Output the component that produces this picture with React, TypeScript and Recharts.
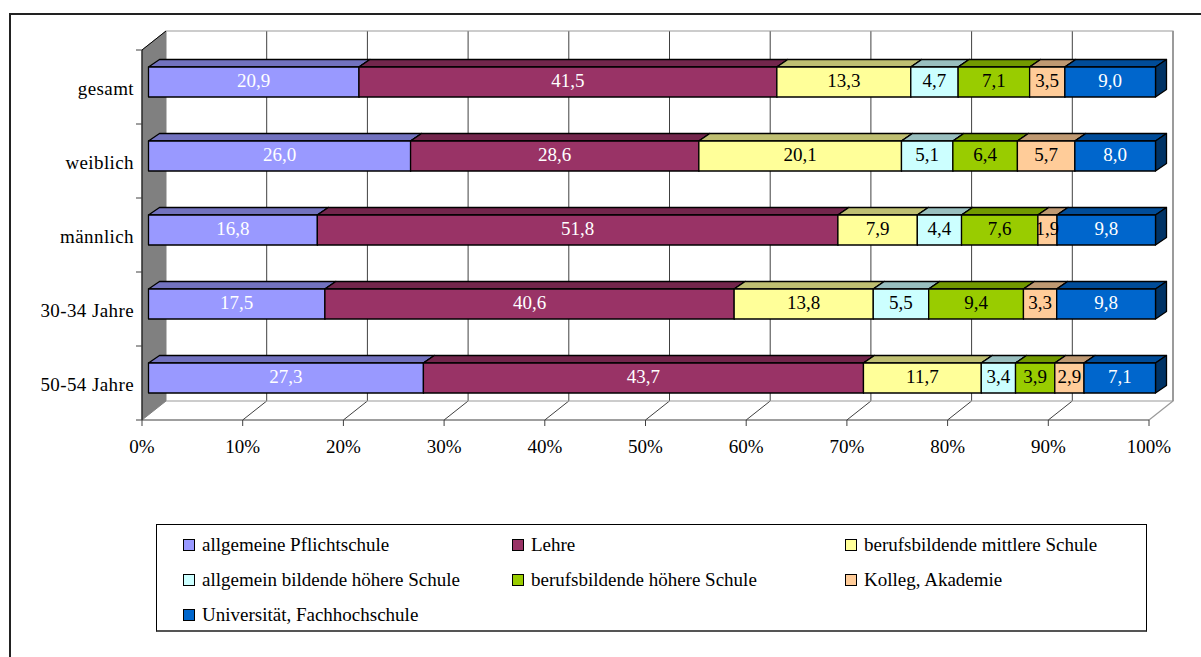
import { Bar, BarChart, CartesianGrid, LabelList, Legend, XAxis, YAxis } from 'recharts';

const categories = ['gesamt', 'weiblich', 'männlich', '30-34 Jahre', '50-54 Jahre'];
const pflichtschule = [20.9, 26.0, 16.8, 17.5, 27.3];
const lehre = [41.5, 28.6, 51.8, 40.6, 43.7];
const mittlere = [13.3, 20.1, 7.9, 13.8, 11.7];
const ahs = [4.7, 5.1, 4.4, 5.5, 3.4];
const bhs = [7.1, 6.4, 7.6, 9.4, 3.9];
const kolleg = [3.5, 5.7, 1.9, 3.3, 2.9];
const uni = [9.0, 8.0, 9.8, 9.8, 7.1];
const xTicks = [0, 0.1, 0.2, 0.3, 0.4, 0.5, 0.6, 0.7, 0.8, 0.9, 1];

const series = [
  { key: 'pflicht', name: 'allgemeine Pflichtschule', values: pflichtschule, fill: '#9999FF', top: '#7272BF', side: '#4C4C80', text: '#FFFFFF' },
  { key: 'lehre', name: 'Lehre', values: lehre, fill: '#993366', top: '#73264C', side: '#4C1933', text: '#FFFFFF' },
  { key: 'mittlere', name: 'berufsbildende mittlere Schule', values: mittlere, fill: '#FFFF99', top: '#BFBF72', side: '#80804C', text: '#000000' },
  { key: 'ahs', name: 'allgemein bildende höhere Schule', values: ahs, fill: '#CCFFFF', top: '#99BFBF', side: '#668080', text: '#000000' },
  { key: 'bhs', name: 'berufsbildende höhere Schule', values: bhs, fill: '#99CC00', top: '#729900', side: '#4C6600', text: '#000000' },
  { key: 'kolleg', name: 'Kolleg, Akademie', values: kolleg, fill: '#FFCC99', top: '#BF9972', side: '#80664C', text: '#000000' },
  { key: 'uni', name: 'Universität, Fachhochschule', values: uni, fill: '#0066CC', top: '#004C99', side: '#003366', text: '#FFFFFF' },
];

const data = categories.map((name, i) => {
  const row: Record<string, string | number> = { name };
  series.forEach((s) => {
    row[s.key] = s.values[i];
  });
  return row;
});

const FONT = '"Liberation Serif", serif';
// plot box of the front plane, and the 3d offsets
const LEFT = 142;
const RIGHT = 1149;
const TOP = 50;
const BOTTOM = 420;
const WALL_DX = 24;
const WALL_DY = 19;
const BAR_DX = 6.5;
const BAR_DY = 5;
const DEPTH_X = 11;
const DEPTH_Y = 7.5;

function Box3d(props: any) {
  const { x, y, width, height, fill, top, side } = props;
  const l = x + BAR_DX;
  const t = y - BAR_DY;
  const r = l + width;
  const b = t + height;
  return (
    <g stroke="#000" strokeWidth={1.3} strokeLinejoin="round">
      <polygon points={`${l},${t} ${l + DEPTH_X},${t - DEPTH_Y} ${r + DEPTH_X},${t - DEPTH_Y} ${r},${t}`} fill={top} />
      <polygon points={`${r},${t} ${r + DEPTH_X},${t - DEPTH_Y} ${r + DEPTH_X},${b - DEPTH_Y} ${r},${b}`} fill={side} />
      <rect x={l} y={t} width={width} height={height} fill={fill} />
    </g>
  );
}

function ValueLabel(props: any) {
  const { x, y, width, height, value, color } = props;
  return (
    <text
      x={x + BAR_DX + width / 2}
      y={y - BAR_DY + height / 2 + 5}
      textAnchor="middle"
      fontFamily={FONT}
      fontSize={19}
      fill={color}
    >
      {Number(value).toFixed(1).replace('.', ',')}
    </text>
  );
}

function GridLine(props: any) {
  const { x1 } = props;
  if (x1 <= LEFT + 1) return null;
  return (
    <g stroke="#404040" strokeWidth={1} fill="none">
      <line x1={x1 + WALL_DX} y1={TOP - WALL_DY} x2={x1 + WALL_DX} y2={BOTTOM - WALL_DY} />
      {x1 < RIGHT - 1 && <line x1={x1} y1={BOTTOM} x2={x1 + WALL_DX} y2={BOTTOM - WALL_DY} />}
    </g>
  );
}

function Walls() {
  const band = (BOTTOM - TOP) / categories.length;
  return (
    <g>
      <polygon
        points={`${LEFT},${TOP} ${LEFT + WALL_DX},${TOP - WALL_DY} ${LEFT + WALL_DX},${BOTTOM - WALL_DY} ${LEFT},${BOTTOM}`}
        fill="#808080"
        stroke="#808080"
      />
      <line x1={LEFT} y1={TOP} x2={LEFT} y2={BOTTOM} stroke="#000" />
      <line x1={LEFT} y1={TOP} x2={LEFT + WALL_DX} y2={TOP - WALL_DY} stroke="#000" />
      <polyline
        points={`${LEFT + WALL_DX},${TOP - WALL_DY} ${RIGHT + WALL_DX},${TOP - WALL_DY} ${RIGHT + WALL_DX},${BOTTOM - WALL_DY} ${LEFT + WALL_DX},${BOTTOM - WALL_DY}`}
        fill="none"
        stroke="#999"
        strokeWidth={1.2}
      />
      <line x1={RIGHT} y1={BOTTOM} x2={RIGHT + WALL_DX} y2={BOTTOM - WALL_DY} stroke="#999" strokeWidth={1.2} />
      {/* the value axis ticks sit between the categories */}
      {[0, 1, 2, 3, 4, 5].map((i) => (
        <line key={i} x1={LEFT - 6} y1={TOP + i * band} x2={LEFT} y2={TOP + i * band} stroke="#404040" />
      ))}
    </g>
  );
}

function LegendBox() {
  return (
    <div
      style={{
        boxSizing: 'border-box',
        width: 991,
        height: 108,
        border: '1px solid #000',
        borderBottom: '2px solid #555',
        display: 'grid',
        gridTemplateColumns: '329px 333px 1fr',
        gridAutoRows: 35,
        padding: '2px 0 0 26px',
        fontFamily: FONT,
        fontSize: 19,
        color: '#000',
      }}
    >
      {series.map((s) => (
        <div key={s.key} style={{ display: 'flex', alignItems: 'center', whiteSpace: 'nowrap' }}>
          <span
            style={{
              boxSizing: 'border-box',
              width: 12,
              height: 12,
              background: s.fill,
              border: '1px solid #000',
              marginRight: 7,
            }}
          />
          {s.name}
        </div>
      ))}
    </div>
  );
}

export default function App() {
  return (
    <div style={{ position: 'absolute', left: 0, top: 0, width: 1201, height: 657, background: '#fff', overflow: 'hidden' }}>
      <div
        style={{
          position: 'absolute',
          left: 9,
          top: 13,
          width: 1300,
          height: 800,
          boxSizing: 'border-box',
          border: '2px solid #222',
        }}
      />
      <BarChart
        layout="vertical"
        width={1201}
        height={657}
        data={data}
        stackOffset="expand"
        barSize={30}
        margin={{ top: TOP, right: 1201 - RIGHT, bottom: 99, left: 42 }}
        style={{ position: 'absolute', left: 0, top: 0 }}
      >
        <Walls />
        <CartesianGrid horizontal={false} vertical={(p: any) => <GridLine key={p.key} {...p} />} />
        <XAxis
          type="number"
          domain={[0, 1]}
          ticks={xTicks}
          tickFormatter={(v: number) => `${Math.round(v * 100)}%`}
          height={30}
          interval={0}
          tick={{ fill: '#000', fontFamily: FONT, fontSize: 19 }}
          tickSize={6}
          tickMargin={14}
          axisLine={{ stroke: '#404040', strokeWidth: 1.2 }}
          tickLine={{ stroke: '#404040' }}
        />
        <YAxis
          type="category"
          dataKey="name"
          width={100}
          interval={0}
          tick={{ fill: '#000', fontFamily: FONT, fontSize: 19, letterSpacing: 0.4, dy: 1 }}
          tickSize={6}
          tickMargin={2}
          axisLine={false}
          tickLine={false}
        />
        {series.map((s) => (
          <Bar
            key={s.key}
            dataKey={s.key}
            name={s.name}
            stackId="a"
            isAnimationActive={false}
            shape={(p: any) => <Box3d {...p} fill={s.fill} top={s.top} side={s.side} />}
          >
            <LabelList dataKey={s.key} content={(p: any) => <ValueLabel {...p} color={s.text} />} />
          </Bar>
        ))}
        <Legend
          content={() => <LegendBox />}
          wrapperStyle={{ left: 156, top: 524, width: 991, bottom: 'auto' }}
        />
      </BarChart>
    </div>
  );
}
